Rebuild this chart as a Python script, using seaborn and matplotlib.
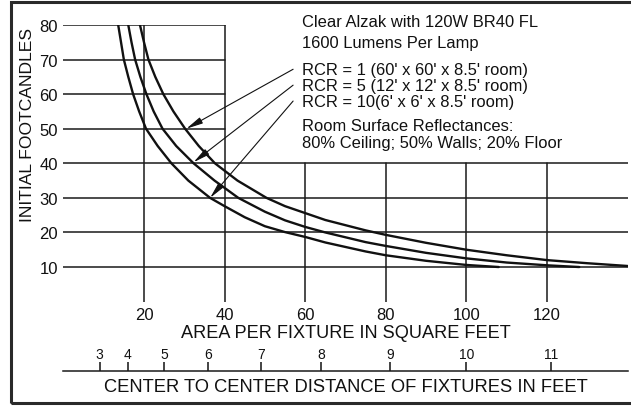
import numpy as np
import pandas as pd
import matplotlib
matplotlib.use("Agg")
import matplotlib.pyplot as plt
from matplotlib.patches import Rectangle
import seaborn as sns

# readings: area per fixture (sq ft) vs initial footcandles
area_rcr1 = [19.0, 20.0, 21.1, 22.8, 24.8, 27.3, 30.2, 33.6, 37.6, 43.2, 50.4, 55, 60,
             65, 70, 75, 80, 90, 100, 110, 120, 130, 140]
fc_rcr1 = [80, 75, 70, 65, 60, 55, 50, 45, 40, 35, 30, 27.6, 25.6,
           23.6, 22.1, 20.6, 19.3, 17.0, 15.0, 13.4, 12.0, 11.1, 10.3]
area_rcr5 = [16.1, 16.9, 17.8, 19.1, 20.6, 22.4, 24.6, 28.0, 32.3, 37.5, 43.4, 50, 55,
             60, 65, 70, 75, 80, 90, 100, 110, 120, 128]
fc_rcr5 = [80, 75, 70, 65, 60, 55, 50, 45, 40, 35, 30, 26.0, 23.5,
           21.6, 20.0, 18.6, 17.2, 16.1, 14.1, 12.5, 11.3, 10.5, 10.0]
area_rcr10 = [13.6, 14.3, 15.0, 16.1, 17.3, 18.8, 20.5, 23.4, 26.8, 31.0, 36.4, 40, 45,
              50, 55, 60, 65, 70, 75, 80, 90, 100, 108]
fc_rcr10 = [80, 75, 70, 65, 60, 55, 50, 45, 40, 35, 30, 27.6, 24.4,
            21.8, 20.1, 18.7, 17.1, 15.8, 14.5, 13.4, 11.8, 10.6, 10.0]

y_ticks = [10, 20, 30, 40, 50, 60, 70, 80]
x_ticks = [20, 40, 60, 80, 100, 120]
dist_ticks = [3, 4, 5, 6, 7, 8, 9, 10, 11]

notes = ["Clear Alzak with 120W BR40 FL", "1600 Lumens Per Lamp"]
rcr_labels = ["RCR = 1 (60' x 60' x 8.5' room)",
              "RCR = 5 (12' x 12' x 8.5' room)",
              "RCR = 10(6' x 6' x 8.5' room)"]
refl = ["Room Surface Reflectances:", "80% Ceiling; 50% Walls; 20% Floor"]

sns.set_style("white")
plt.rcParams["font.family"] = ["Liberation Sans", "DejaVu Sans"]

W, H = 631, 410
fig = plt.figure(figsize=(W / 100, H / 100), dpi=100)

# main axes: x 0..140 -> px 63.4..627.6, y 0..80 -> px 302.6..26
left, right = 63.4 / W, 627.6 / W
bot, top = 1 - 302.6 / H, 1 - 26 / H
ax = fig.add_axes([left, bot, right - left, top - bot])
ax.set_xlim(0, 140)
ax.set_ylim(0, 80)
for s in ax.spines.values():
    s.set_visible(False)

gc = "#1a1a1a"
txtc = "#111111"
for y in y_ticks:
    xmax = 40 / 140 if y >= 50 else 1
    ax.axhline(y, xmin=0, xmax=xmax, color=gc, lw=1.1, zorder=1)
for x in x_ticks:
    ymax = 1 if x <= 40 else 40 / 80
    ax.axvline(x, ymin=0, ymax=ymax, color=gc, lw=1.1, zorder=1)

for xs, ys in [(area_rcr1, fc_rcr1), (area_rcr5, fc_rcr5), (area_rcr10, fc_rcr10)]:
    df = pd.DataFrame({"area": xs, "fc": ys})
    sns.lineplot(data=df, x="area", y="fc", ax=ax, color="#111111", lw=1.7,
                 sort=False, estimator=None, zorder=3)

ax.set_xticks(x_ticks)
ax.set_yticks(y_ticks)
ax.tick_params(axis="both", length=0, labelsize=12, colors=txtc)
ax.tick_params(axis="x", pad=4)
ax.tick_params(axis="y", pad=4)
ax.set_xlabel("AREA PER FIXTURE IN SQUARE FEET", fontsize=13.1, labelpad=1, color=txtc)
ax.set_ylabel("")
fig.text(28 / W, 1 - 125 / H, "INITIAL FOOTCANDLES", rotation=90, fontsize=12.6,
         ha="center", va="center", color=txtc)

# annotation block
tx = 59.2
fs = 11.9
for t, y in zip(notes, [80.9, 75.0]):
    ax.text(tx, y, t, fontsize=fs, va="center", ha="left", clip_on=False, color=txtc)
tips = [(30.5, 50), (32.3, 40.3), (36.4, 30)]
for t, y, tip in zip(rcr_labels, [67.2, 62.6, 58.0], tips):
    ax.text(tx, y, t, fontsize=fs, va="center", ha="left", color=txtc)
    ax.annotate("", xy=tip, xytext=(57.0, y),
                arrowprops=dict(arrowstyle="-|>,head_length=1.0,head_width=0.2",
                                lw=0.8, color="#111111", shrinkA=0, shrinkB=0))
for t, y in zip(refl, [51.0, 46.1]):
    ax.text(tx, y, t, fontsize=fs, va="center", ha="left", color=txtc)

# second scale: center-to-center distance (ft), position = distance squared
y2 = 1 - 372 / H
ax2 = fig.add_axes([left, y2 - 0.001, right - left, 0.001])
ax2.set_xlim(0, 140)
ax2.set_yticks([])
for k, s in ax2.spines.items():
    s.set_visible(k == "top")
ax2.spines["top"].set_linewidth(1.1)
ax2.spines["top"].set_color(gc)
ax2.xaxis.tick_top()
ax2.set_xticks([d ** 2 for d in dist_ticks])
ax2.set_xticklabels([str(d) for d in dist_ticks])
ax2.tick_params(axis="x", direction="out", length=6.5, width=1.1, labelsize=10,
                pad=1, colors=txtc)
ax2.xaxis.set_label_position("bottom")
ax2.set_xlabel("CENTER TO CENTER DISTANCE OF FIXTURES IN FEET", fontsize=13.2,
               labelpad=5, color=txtc)

# outer frame (open on the right, cropped)
fig.patches.append(Rectangle((11 / W, 1 - 404 / H), 1.0, (404 - 2.5) / H,
                             transform=fig.transFigure, fill=False,
                             lw=2.2, edgecolor="#2a2a2a"))

fig.savefig("out.png", dpi=100)
